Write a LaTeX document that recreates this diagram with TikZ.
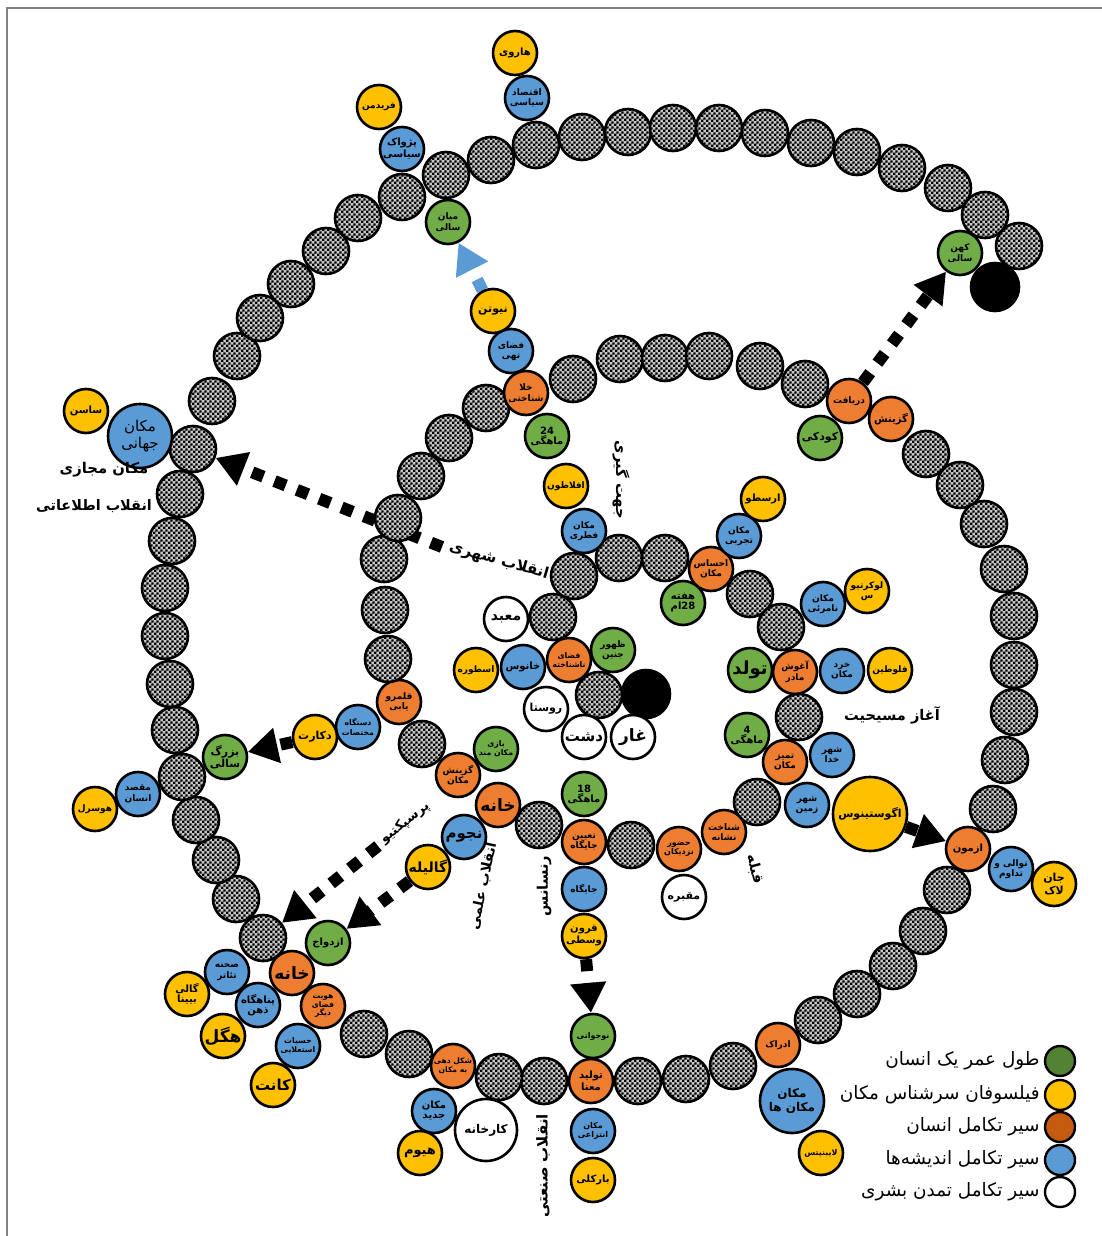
\documentclass[tikz,border=0pt]{standalone}
\usepackage{fontspec}
\usetikzlibrary{arrows.meta,patterns,backgrounds}
\TeXXeTstate=1
\newfontfamily\fafont[Script=Arabic]{DejaVu Sans}
\newcommand\fatxt[1]{{\fafont\bfseries\beginR #1\endR}}
\newcommand\falt[1]{{\fafont\beginR #1\endR}}
\newcommand\ftwo[2]{\fatxt{#1}\\\fatxt{#2}}
\pgfdeclarepatternformonly{fineck}{\pgfqpoint{0pt}{0pt}}{\pgfqpoint{2.4pt}{2.4pt}}{\pgfqpoint{2.4pt}{2.4pt}}{%
  \pgfpathrectangle{\pgfqpoint{0pt}{0pt}}{\pgfqpoint{1.2pt}{1.2pt}}%
  \pgfpathrectangle{\pgfqpoint{1.2pt}{1.2pt}}{\pgfqpoint{1.2pt}{1.2pt}}%
  \pgfusepath{fill}}
\definecolor{cgreen}{RGB}{112,173,71}
\definecolor{cyellow}{RGB}{255,192,0}
\definecolor{corange}{RGB}{237,125,49}
\definecolor{cblue}{RGB}{91,155,213}
\definecolor{lgreen}{RGB}{84,130,53}
\definecolor{lorange}{RGB}{197,90,17}
\definecolor{frame}{RGB}{130,130,130}
\tikzset{
  cc/.style={circle, draw=black, line width=1.3pt, inner sep=0pt, minimum size=22pt, align=center, font=\fontsize{4.5}{5.3}\selectfont, text=black},
  bead/.style={cc, minimum size=23pt, preaction={fill=black!22}, pattern=fineck, pattern color=black},
  gn/.style={cc, fill=cgreen},
  yl/.style={cc, fill=cyellow},
  og/.style={cc, fill=corange},
  bl/.style={cc, fill=cblue},
  wt/.style={cc, fill=white},
  blk/.style={cc, fill=black, minimum size=24pt},
  fs/.style={font=\fontsize{#1}{#1}\selectfont},
  lbl/.style={font=\fontsize{#1}{#1}\selectfont, inner sep=1pt},
  darr/.style={line width=6pt, dash pattern=on 6pt off 6pt, -{Triangle[length=15pt,width=17pt]}},
  leg/.style={circle, draw=black, line width=1.2pt, minimum size=15pt, inner sep=0pt},
  legt/.style={font=\fontsize{9.2}{10}\selectfont, anchor=east, inner sep=0pt},
}
\begin{document}
\begin{tikzpicture}[x=0.5pt,y=-0.5pt]
\useasboundingbox (0,0) rectangle (1102,1236);
\draw[frame, line width=1pt] (7,1236) -- (7,8) -- (1102,8);

% ---------- spiral ----------
\node[blk] (blk1) at (646,694) {};
\node[bead] (s1) at (599,695) {};
\node[og, font=\fontsize{3.9}{4.6}\selectfont] (fnash) at (569,660) {\ftwo{فضای}{ناشناخته}};
\node[bead] (s2) at (553,617) {};
\node[bead] (s3) at (574,576) {};
\node[bead] (s4) at (619,558) {};
\node[bead] (s5) at (665,558) {};
\node[og] (ehsas) at (711,569) {\ftwo{احساس}{مکان}};
\node[bead] (s6) at (750,594) {};
\node[bead] (s7) at (781,627) {};
\node[og] (aqush) at (795,672) {\ftwo{آغوش}{مادر}};
\node[bead] (s8) at (799,717) {};
\node[og] (tamiz) at (785,762) {\ftwo{تمیز}{مکان}};
\node[bead] (s9) at (757,802) {};
\node[og] (shenakht) at (724,832) {\ftwo{شناخت}{نشانه}};
\node[og, font=\fontsize{4}{4.8}\selectfont] (hozur) at (679,849) {\ftwo{حضور}{نزدیکان}};
\node[bead] (s10) at (631,845) {};
\node[og] (tayin) at (584,842) {\ftwo{تعیین}{جایگاه}};
\node[bead] (s11) at (539,825) {};
\node[og, font=\fontsize{8.5}{9}\selectfont] (khane1) at (498,805) {\fatxt{خانه}};
\node[og] (gozmak) at (458,775) {\ftwo{گزینش}{مکان}};
\node[bead] (s12) at (422,744) {};
\node[og] (qalam) at (399,702) {\ftwo{قلمرو}{یابی}};
\node[bead] (s13) at (388,659) {};
\node[bead] (s14) at (385,610) {};
\node[bead] (s15) at (384,559) {};
\node[bead] (s16) at (398,518) {};
\node[bead] (s17) at (421,476) {};
\node[bead] (s18) at (449,438) {};
\node[bead] (s19) at (486,408) {};
\node[og] (khala) at (526,393) {\ftwo{خلا}{شناختی}};
\node[bead] (s20) at (573,379) {};
\node[bead] (s21) at (620,359) {};
\node[bead] (s22) at (665,358) {};
\node[bead] (s23) at (709,356) {};
\node[bead] (s24) at (760,366) {};
\node[bead] (s25) at (805,384) {};
\node[og] (daryaft) at (849,401) {\fatxt{دریافت}};
\node[og, fs=5] (gozinesh) at (891,419) {\fatxt{گزینش}};
\node[bead] (s26) at (926,454) {};
\node[bead] (s27) at (960,485) {};
\node[bead] (s28) at (984,524) {};
\node[bead] (s29) at (1004,569) {};
\node[bead] (s30) at (1014,616) {};
\node[bead] (s31) at (1014,665) {};
\node[bead] (s32) at (1014,712) {};
\node[bead] (s33) at (1005,760) {};
\node[bead] (s34) at (993,809) {};
\node[og, fs=5] (azmun) at (968,849) {\fatxt{ازمون}};
\node[bead] (s35) at (947,890) {};
\node[bead] (s36) at (923,931) {};
\node[bead] (s37) at (893,966) {};
\node[bead] (s38) at (857,994) {};
\node[bead] (s39) at (818,1020) {};
\node[og] (edrak) at (778,1045) {\fatxt{ادراک}};
\node[bead] (s40) at (733,1066) {};
\node[bead] (s41) at (686,1079) {};
\node[bead] (s42) at (638,1081) {};
\node[og, fs=5] (tolid) at (591,1081) {\ftwo{تولید}{معنا}};
\node[bead] (s43) at (544,1081) {};
\node[bead] (s44) at (499,1077) {};
\node[og, font=\fontsize{3.8}{4.5}\selectfont] (shekl) at (453,1066) {{\fafont\bfseries\beginR شکل دهی\endR}\\{\fafont\bfseries\beginR به مکان\endR}};
\node[bead] (s45) at (409,1054) {};
\node[bead] (s46) at (364,1034) {};
\node[og, font=\fontsize{3.8}{4.4}\selectfont] (hoviat) at (323,1006) {\fatxt{هویت}\\\fatxt{فضای}\\\fatxt{دیگر}};
\node[og, font=\fontsize{8.5}{9}\selectfont] (khane2) at (292,973) {\fatxt{خانه}};
\node[bead] (s47) at (263,938) {};
\node[bead] (s48) at (236,899) {};
\node[bead] (s49) at (216,860) {};
\node[bead] (s50) at (196,820) {};
\node[bead] (s51) at (182,777) {};
\node[bead] (s52) at (175,730) {};
\node[bead] (s53) at (170,684) {};
\node[bead] (s54) at (165,636) {};
\node[bead] (s55) at (165,588) {};
\node[bead] (s56) at (172,541) {};
\node[bead] (s57) at (180,494) {};
\node[bead] (s58) at (193,449) {};
\node[bead] (s59) at (212,401) {};
\node[bead] (s60) at (237,356) {};
\node[bead] (s61) at (260,318) {};
\node[bead] (s62) at (291,284) {};
\node[bead] (s63) at (326,251) {};
\node[bead] (s64) at (358,218) {};
\node[bead] (s65) at (402,197) {};
\node[bead] (s66) at (446,175) {};
\node[bead] (s67) at (491,160) {};
\node[bead] (s68) at (536,145) {};
\node[bead] (s69) at (582,137) {};
\node[bead] (s70) at (628,132) {};
\node[bead] (s71) at (673,128) {};
\node[bead] (s72) at (719,128) {};
\node[bead] (s73) at (765,133) {};
\node[bead] (s74) at (811,143) {};
\node[bead] (s75) at (857,152) {};
\node[bead] (s76) at (902,168) {};
\node[bead] (s77) at (948,188) {};
\node[bead] (s78) at (985,215) {};
\node[bead] (s79) at (1019,246) {};

% ---------- side circles ----------
\node[gn] (zohur) at (613,650) {\ftwo{ظهور}{جنین}};
\node[bl, fs=5] (khanus) at (523,667) {\fatxt{خانوس}};
\node[yl] (ostur) at (476,670) {\fatxt{اسطوره}};
\node[wt, fs=7] (mabad) at (506,619) {\fatxt{معبد}};
\node[wt, fs=5.5] (rusta) at (546,709) {\fatxt{روستا}};
\node[wt, fs=7.5] (dasht) at (584,737) {\fatxt{دشت}};
\node[wt, fs=8.5] (ghar) at (633,737) {\fatxt{غار}};
\node[gn, fs=5] (m24) at (547,436) {\fatxt{24}\\\fatxt{ماهگی}};
\node[bl] (fazatohi) at (511,351) {\ftwo{فضای}{تهی}};
\node[yl, fs=5.5] (niuton) at (493,311) {\fatxt{نیوتن}};
\node[yl] (aflatun) at (566,486) {\fatxt{افلاطون}};
\node[bl] (fetri) at (584,531) {\ftwo{مکان}{فطری}};
\node[gn, fs=5] (hafte) at (683,603) {\ftwo{هفته}{28ام}};
\node[bl] (tajrobi) at (739,536) {\ftwo{مکان}{تجربی}};
\node[yl, fs=5] (arastu) at (763,499) {\fatxt{ارسطو}};
\node[bl] (namarii) at (823,604) {\ftwo{مکان}{نامرئی}};
\node[yl] (lokret) at (867,591) {\ftwo{لوکرتیو}{س}};
\node[gn, fs=9] (tavallod) at (750,670) {\fatxt{تولد}};
\node[bl] (kherad) at (842,671) {\ftwo{خرد}{مکان}};
\node[yl] (falutin) at (890,670) {\fatxt{فلوطین}};
\node[gn, fs=5] (m4) at (747,735) {\fatxt{4}\\\fatxt{ماهگی}};
\node[bl] (shahrkhoda) at (832,755) {\ftwo{شهر}{خدا}};
\node[bl] (shahrzamin) at (807,805) {\ftwo{شهر}{زمین}};
\node[yl, minimum size=37pt, fs=5.5] (agust) at (870,814) {\fatxt{اگوستینوس}};
\node[wt, fs=5.5] (maqbare) at (684,897) {\fatxt{مقبره}};
\node[gn, fs=5] (m18) at (584,794) {\fatxt{18}\\\fatxt{ماهگی}};
\node[bl] (jaygah) at (584,889) {\fatxt{جایگاه}};
\node[yl, fs=5] (qorun) at (584,936) {\ftwo{قرون}{وسطی}};
\node[gn, font=\fontsize{3.9}{4.6}\selectfont] (bazi) at (496,749) {\fatxt{بازی}\\{\fafont\bfseries\beginR مکان مند\endR}};
\node[bl, fs=7.5] (nojum) at (464,837) {\fatxt{نجوم}};
\node[yl, fs=7] (galile) at (428,867) {\fatxt{گالیله}};
\node[bl, font=\fontsize{3.9}{4.6}\selectfont] (dastgah) at (358,727) {\ftwo{دستگاه}{مختصات}};
\node[yl, fs=5.5] (dekart) at (315,737) {\fatxt{دکارت}};
\node[gn, fs=5.5] (kudaki) at (820,438) {\fatxt{کودکی}};
\node[gn] (miansali) at (448,222) {\ftwo{میان}{سالی}};
\node[bl, fs=5] (pejvak) at (402,149) {\ftwo{پژواک}{سیاسی}};
\node[yl] (fridman) at (379,107) {\fatxt{فریدمن}};
\node[bl] (eqtesad) at (527,98) {\ftwo{اقتصاد}{سیاسی}};
\node[yl, fs=5] (harvi) at (515,53) {\fatxt{هاروی}};
\node[gn] (kohan) at (960,253) {\ftwo{کهن}{سالی}};
\node[blk] (blk2) at (995,287) {};
\node[bl, minimum size=32pt, font=\fontsize{7.5}{8.5}\selectfont] (jahani) at (140,436) {\falt{مکان}\\\falt{جهانی}};
\node[yl, fs=5] (sasen) at (86,411) {\fatxt{ساسن}};
\node[gn, font=\fontsize{5.5}{6.3}\selectfont] (bozorg) at (225,757) {\ftwo{بزرگ}{سالی}};
\node[bl] (maqsad) at (138,794) {\ftwo{مقصد}{انسان}};
\node[yl] (husserl) at (95,809) {\fatxt{هوسرل}};
\node[gn, fs=5] (ezdevaj) at (328,943) {\fatxt{ازدواج}};
\node[bl] (sahne) at (227,972) {\ftwo{صحنه}{تئاتر}};
\node[yl, fs=5] (gali) at (187,994) {\ftwo{گالی}{بیینا}};
\node[bl, fs=5] (panah) at (258,1005) {\ftwo{پناهگاه}{ذهن}};
\node[yl, fs=8.5] (hegel) at (223,1036) {\fatxt{هگل}};
\node[bl, font=\fontsize{3.9}{4.6}\selectfont] (hessiat) at (298,1046) {\ftwo{حسیات}{استعلایی}};
\node[yl, fs=7.5] (kant) at (273,1085) {\fatxt{کانت}};
\node[gn, fs=4] (nojavan) at (593,1036) {\fatxt{نوجوانی}};
\node[bl, font=\fontsize{4}{4.8}\selectfont] (entezai) at (593,1131) {\ftwo{مکان}{انتزاعی}};
\node[yl, fs=5] (barkli) at (593,1180) {\fatxt{بارکلی}};
\node[bl, fs=5] (jadid) at (434,1111) {\ftwo{مکان}{جدید}};
\node[wt, minimum size=31pt, fs=6] (karkhane) at (486,1130) {\fatxt{کارخانه}};
\node[yl, fs=6.5] (hium) at (420,1153) {\fatxt{هیوم}};
\node[bl, minimum size=32pt, font=\fontsize{6}{7}\selectfont] (makanha) at (792,1101) {\fatxt{مکان}\\{\fafont\bfseries\beginR مکان ها\endR}};
\node[yl, fs=4] (leibniz) at (821,1153) {\fatxt{لایبنیتس}};
\node[bl] (tavali) at (1011,869) {{\fafont\bfseries\beginR توالی و\endR}\\\fatxt{تداوم}};
\node[yl, font=\fontsize{5.5}{6.3}\selectfont] (janlak) at (1054,884) {\ftwo{جان}{لاک}};

% ---------- labels ----------
\node[lbl=7.4] (Lmajazi) at (104,470) {\fatxt{مکان مجازی}};
\node[lbl=7.2] (Lettela) at (94,506) {\fatxt{انقلاب اطلاعاتی}};
\node[lbl=7.6, rotate=-16] (Lshahri) at (499,561) {\fatxt{انقلاب شهری}};
\node[lbl=7.4, rotate=-90] (Ljahat) at (621,480) {\fatxt{جهت گیری}};
\node[lbl=6.6, rotate=38] (Lpersp) at (405,823) {\fatxt{پرسپکتیو}};
\node[lbl=7, rotate=78] (Lelmi) at (483,886) {\fatxt{انقلاب علمی}};
\node[lbl=7.3, rotate=90] (Lrenes) at (544,886) {\fatxt{رنسانس}};
\node[lbl=7.2, rotate=-75] (Lqeble) at (755,869) {\fatxt{قبله}};
\node[lbl=7.3] (Lmasih) at (892,715) {\fatxt{آغاز مسیحیت}};
\node[lbl=7.5, rotate=90] (Lsanati) at (543,1166) {\fatxt{انقلاب صنعتی}};

% ---------- legend ----------
\node[leg, fill=lgreen] (lg1) at (1060,1061) {};
\node[leg, fill=cyellow] (lg2) at (1060,1095) {};
\node[leg, fill=lorange] (lg3) at (1060,1127) {};
\node[leg, fill=cblue] (lg4) at (1060,1160) {};
\node[leg, fill=white] (lg5) at (1060,1192) {};
\node[legt] (lt1) at (1040,1061) {\falt{طول عمر یک انسان}};
\node[legt] (lt2) at (1040,1095) {\falt{فیلسوفان سرشناس مکان}};
\node[legt] (lt3) at (1040,1127) {\falt{سیر تکامل انسان}};
\node[legt] (lt4) at (1040,1160) {\falt{سیر تکامل اندیشه‌ها}};
\node[legt] (lt5) at (1040,1192) {\falt{سیر تکامل تمدن بشری}};

% ---------- arrows ----------
\begin{scope}[on background layer]
\coordinate (a1s) at (442,547);
\coordinate (a3s) at (378,846);
\draw[darr] (a1s) -- (s58);
\draw[darr] (daryaft) -- (kohan);
\draw[darr] (a3s) -- (s47);
\draw[darr] (galile) -- (ezdevaj);
\draw[darr] (dekart) -- (bozorg);
\draw[darr] (agust) -- (azmun);
\draw[darr] (qorun) -- (nojavan);
\draw[darr, draw=cblue] (niuton) -- (miansali);
\end{scope}
\end{tikzpicture}
\end{document}
